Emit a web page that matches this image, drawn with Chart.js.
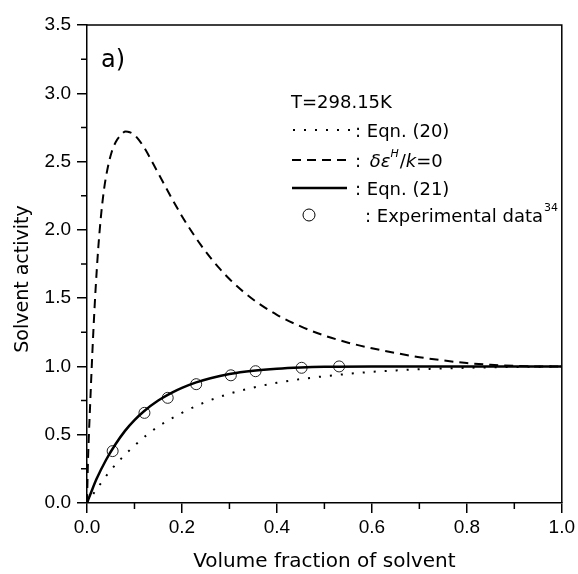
<!DOCTYPE html>
<html>
<head>
<meta charset="utf-8">
<script src="https://cdn.jsdelivr.net/npm/chart.js@4/dist/chart.umd.min.js"></script>
<style>
  html, body { margin: 0; padding: 0; background: #fff; }
  #wrap { width: 578px; height: 574px; }
</style>
</head>
<body>
<div id="wrap"><canvas id="chart" width="578" height="574"></canvas></div>
<script>
// solvent activity vs volume fraction of solvent, T=298.15K

// Eqn. (20), dotted
const eq20X = [0, 0.02, 0.05, 0.1, 0.15, 0.2, 0.25, 0.3, 0.35, 0.4, 0.45, 0.5, 0.6, 0.7, 0.8, 0.9, 1.0];
const eq20Y = [0, 0.1, 0.24, 0.42, 0.56, 0.66, 0.74, 0.8, 0.845, 0.88, 0.907, 0.928, 0.96, 0.979, 0.99, 0.996, 1.0];

// delta eps^H / k = 0, dashed
const zeroX = [0, 0.002, 0.004, 0.007, 0.01, 0.014, 0.018, 0.024, 0.03, 0.036, 0.044, 0.052, 0.06, 0.07, 0.0815,
  0.09, 0.1, 0.11, 0.12, 0.14, 0.16, 0.18, 0.2, 0.22, 0.24, 0.26, 0.28, 0.3, 0.33, 0.36, 0.4, 0.45, 0.5,
  0.55, 0.6, 0.65, 0.7, 0.75, 0.8, 0.85, 0.9, 0.95, 1.0];
const zeroY = [0, 0.3, 0.5, 0.75, 1.0, 1.3, 1.56, 1.88, 2.12, 2.3, 2.46, 2.57, 2.64, 2.69, 2.72,
  2.715, 2.695, 2.655, 2.605, 2.48, 2.35, 2.222, 2.1, 1.99, 1.888, 1.796, 1.714, 1.64, 1.545, 1.465, 1.378, 1.293, 1.226,
  1.174, 1.133, 1.098, 1.068, 1.044, 1.025, 1.012, 1.004, 1.0, 1.0];

// Eqn. (21), solid
const eq21X = [0, 0.01, 0.02, 0.04, 0.06, 0.08, 0.1, 0.12, 0.15, 0.18, 0.2, 0.23, 0.26, 0.3, 0.35, 0.4, 0.45, 0.5, 0.6, 0.7, 0.8, 0.9, 1.0];
const eq21Y = [0, 0.09, 0.175, 0.315, 0.43, 0.528, 0.607, 0.672, 0.75, 0.81, 0.843, 0.883, 0.914, 0.944, 0.968, 0.983, 0.992, 0.997, 1.0, 1.0, 1.0, 1.0, 1.0];

// experimental data (ref. 34), open circles
const expX = [0.054, 0.121, 0.17, 0.23, 0.303, 0.355, 0.452, 0.531];
const expY = [0.38, 0.66, 0.77, 0.87, 0.935, 0.965, 0.99, 1.0];

const xTicks = [0, 0.2, 0.4, 0.6, 0.8, 1.0];
const yTicks = [0, 0.5, 1.0, 1.5, 2.0, 2.5, 3.0, 3.5];
const xMinor = [0.1, 0.3, 0.5, 0.7, 0.9];
const yMinor = [0.25, 0.75, 1.25, 1.75, 2.25, 2.75, 3.25];

const TEXT_FONT = '"DejaVu Sans", Tahoma, sans-serif';
const TICK_FONT = '"Liberation Sans", Arial, sans-serif';

function pts(xs, ys){
  return xs.map((x, i) => ({ x: x, y: ys[i] }));
}

// minor ticks + closed frame
const framePlugin = {
  id: 'frame',
  afterDraw(chart){
    const ctx = chart.ctx;
    const a = chart.chartArea;
    const sx = chart.scales.x, sy = chart.scales.y;
    ctx.save();
    ctx.strokeStyle = '#000';
    ctx.lineWidth = 1.5;
    ctx.beginPath();
    ctx.moveTo(a.left, a.top);
    ctx.lineTo(a.right, a.top);
    ctx.lineTo(a.right, a.bottom);
    ctx.stroke();
    ctx.beginPath();
    xMinor.forEach(v => {
      const px = sx.getPixelForValue(v);
      ctx.moveTo(px, a.bottom);
      ctx.lineTo(px, a.bottom + 6);
    });
    yMinor.forEach(v => {
      const py = sy.getPixelForValue(v);
      ctx.moveTo(a.left, py);
      ctx.lineTo(a.left - 6, py);
    });
    ctx.stroke();

    // y title sits a bit below the middle in the original
    ctx.fillStyle = '#000';
    ctx.font = '19px ' + TEXT_FONT;
    ctx.textAlign = 'center';
    ctx.textBaseline = 'middle';
    ctx.translate(23, 279);
    ctx.rotate(-Math.PI / 2);
    ctx.fillText('Solvent activity', 0, 0);
    ctx.restore();
  }
};

// hand drawn key, the legend has italics and superscripts
const keyPlugin = {
  id: 'key',
  afterDraw(chart){
    const ctx = chart.ctx;
    ctx.save();
    ctx.fillStyle = '#000';
    ctx.strokeStyle = '#000';
    ctx.textBaseline = 'alphabetic';
    ctx.textAlign = 'left';

    ctx.font = '24px ' + TEXT_FONT;
    ctx.fillText('a)', 101, 67);

    ctx.font = '18px ' + TEXT_FONT;
    ctx.fillText('T=298.15K', 291, 108);

    // dotted
    ctx.lineWidth = 2;
    ctx.setLineDash([2, 9]);
    ctx.beginPath(); ctx.moveTo(293, 130); ctx.lineTo(350, 130); ctx.stroke();
    ctx.fillText(': Eqn. (20)', 355, 137);

    // dashed
    ctx.setLineDash([9, 6]);
    ctx.beginPath(); ctx.moveTo(292, 160); ctx.lineTo(347, 160); ctx.stroke();
    ctx.fillText(': ', 355, 167);
    let x = 355 + ctx.measureText(': ').width + 3;
    ctx.font = 'italic 18px ' + TEXT_FONT;
    ctx.fillText('\u03b4\u03b5', x, 167);
    x += ctx.measureText('\u03b4\u03b5').width;
    ctx.font = 'italic 11px ' + TEXT_FONT;
    ctx.fillText('H', x, 157);
    x += ctx.measureText('H').width + 1;
    ctx.font = '18px ' + TEXT_FONT;
    ctx.fillText('/', x, 167);
    x += ctx.measureText('/').width;
    ctx.font = 'italic 18px ' + TEXT_FONT;
    ctx.fillText('k', x, 167);
    x += ctx.measureText('k').width;
    ctx.font = '18px ' + TEXT_FONT;
    ctx.fillText('=0', x, 167);

    // solid
    ctx.setLineDash([]);
    ctx.lineWidth = 2.5;
    ctx.beginPath(); ctx.moveTo(292, 188); ctx.lineTo(347, 188); ctx.stroke();
    ctx.fillText(': Eqn. (21)', 355, 195);

    // circle
    ctx.lineWidth = 1;
    ctx.beginPath(); ctx.arc(309, 215, 6, 0, Math.PI * 2); ctx.stroke();
    ctx.fillText(': Experimental data', 365, 222);
    x = 365 + ctx.measureText(': Experimental data').width + 1;
    ctx.font = '11px ' + TEXT_FONT;
    ctx.fillText('34', x, 211);
    ctx.restore();
  }
};

const ctx = document.getElementById('chart').getContext('2d');
const chart = new Chart(ctx, {
  type: 'scatter',
  data: {
    datasets: [
      {
        label: 'Eqn. (20)',
        data: pts(eq20X, eq20Y),
        showLine: true,
        borderColor: '#000',
        borderWidth: 2,
        borderDash: [2, 9],
        pointRadius: 0,
        cubicInterpolationMode: 'monotone'
      },
      {
        label: 'dεH/k=0',
        data: pts(zeroX, zeroY),
        showLine: true,
        borderColor: '#000',
        borderWidth: 2,
        borderDash: [9, 6],
        pointRadius: 0,
        cubicInterpolationMode: 'monotone'
      },
      {
        label: 'Eqn. (21)',
        data: pts(eq21X, eq21Y),
        showLine: true,
        borderColor: '#000',
        borderWidth: 2.5,
        pointRadius: 0,
        cubicInterpolationMode: 'monotone'
      },
      {
        label: 'Experimental data',
        data: pts(expX, expY),
        showLine: false,
        pointRadius: 5.5,
        pointBorderWidth: 1,
        pointBorderColor: '#222',
        pointBackgroundColor: 'rgba(0,0,0,0)'
      }
    ]
  },
  options: {
    responsive: false,
    animation: false,
    layout: { padding: { top: 25, right: 13, left: 0, bottom: 0 } },
    plugins: { legend: { display: false }, tooltip: { enabled: false } },
    scales: {
      x: {
        type: 'linear',
        min: 0, max: 1,
        afterBuildTicks: s => { s.ticks = xTicks.map(v => ({ value: v })); },
        afterFit: s => { s.height = 71; },
        ticks: {
          color: '#000',
          padding: 3,
          font: { family: TICK_FONT, size: 19 },
          callback: v => Number(v).toFixed(1)
        },
        grid: { drawOnChartArea: false, drawTicks: true, tickLength: 10, color: '#000', lineWidth: 1.5 },
        border: { display: true, color: '#000', width: 1.5 },
        title: {
          display: true,
          text: 'Volume fraction of solvent',
          color: '#000',
          font: { family: TEXT_FONT, size: 20, lineHeight: 1.2 },
          padding: { top: 2, bottom: 0 }
        }
      },
      y: {
        type: 'linear',
        min: 0, max: 3.5,
        afterBuildTicks: s => { s.ticks = yTicks.map(v => ({ value: v })); },
        afterFit: s => { s.width = 87; },
        ticks: {
          color: '#000',
          padding: 6,
          font: { family: TICK_FONT, size: 19 },
          callback: v => Number(v).toFixed(1)
        },
        grid: { drawOnChartArea: false, drawTicks: true, tickLength: 10, color: '#000', lineWidth: 1.5 },
        border: { display: true, color: '#000', width: 1.5 }
      }
    }
  },
  plugins: [framePlugin, keyPlugin]
});
</script>
</body>
</html>
